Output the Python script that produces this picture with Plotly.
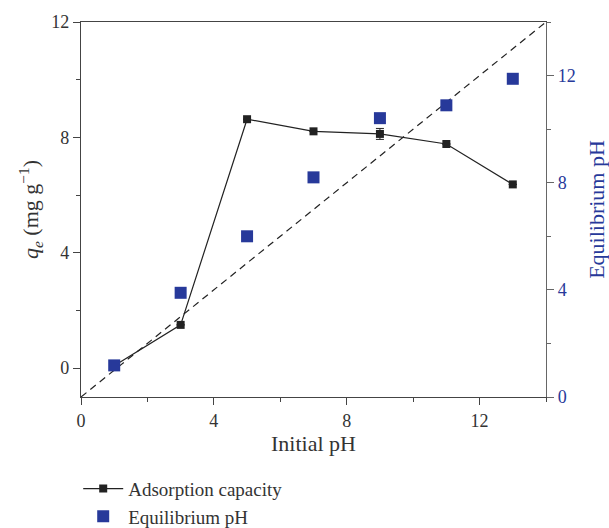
import plotly.graph_objects as go

initial_ph = [1, 3, 5, 7, 9, 11, 13]
adsorption_capacity = [0.08, 1.5, 8.63, 8.21, 8.12, 7.77, 6.37]
adsorption_err = [0, 0, 0, 0, 0.19, 0, 0]
equilibrium_ph = [1.18, 3.89, 6.0, 8.2, 10.41, 10.89, 11.88]
ref_line_x = [0, 14]
ref_line_y = [0, 14]

FONT = "Liberation Serif"
BLUE = "#27399a"
BLK = "#222222"

fig = go.Figure()
fig.add_trace(go.Scatter(
    x=ref_line_x, y=ref_line_y, yaxis="y2", mode="lines",
    line=dict(color=BLK, width=1.2, dash="7px,5px"), showlegend=False, hoverinfo="skip"))
fig.add_trace(go.Scatter(
    x=initial_ph, y=equilibrium_ph, yaxis="y2", mode="markers", name="Equilibrium pH",
    marker=dict(symbol="square", size=12, color=BLUE)))
fig.add_trace(go.Scatter(
    x=initial_ph, y=adsorption_capacity, mode="lines+markers", name="Adsorption capacity",
    line=dict(color=BLK, width=1.2),
    marker=dict(symbol="square", size=8, color=BLK),
    error_y=dict(type="data", array=adsorption_err, color=BLK, thickness=1, width=4)))

axis_common = dict(showgrid=False, zeroline=False, showline=True, linewidth=1.2,
                   ticks="outside", ticklen=7, tickwidth=1.2, dtick=4, tick0=0)

fig.update_layout(
    width=609, height=528,
    margin=dict(l=81, r=63, t=22, b=131, autoexpand=False),
    plot_bgcolor="white", paper_bgcolor="white",
    font=dict(family=FONT, size=18, color="#333333"),
    xaxis=dict(range=[0, 14], linecolor="#444444", tickcolor="#444444", mirror=True,
               title=dict(text="Initial pH", standoff=4),
               minor=dict(dtick=2, tick0=0, ticks="outside", ticklen=4, tickcolor="#444444"),
               **axis_common),
    yaxis=dict(range=[-1, 12], linecolor="#444444", tickcolor="#444444",
               title=dict(text="<i>q<sub>e</sub></i> (mg g<sup>−1</sup>)", standoff=6),
               minor=dict(dtick=2, tick0=0, ticks="outside", ticklen=4, tickcolor="#444444"),
               **axis_common),
    yaxis2=dict(range=[0, 14], overlaying="y", side="right", linecolor="#666666", tickcolor="#666666",
                tickfont=dict(color=BLUE),
                title=dict(text="Equilibrium pH", font=dict(color=BLUE), standoff=15),
                minor=dict(dtick=2, tick0=0, ticks="outside", ticklen=4, tickcolor="#666666"),
                **axis_common),
    legend=dict(x=-0.006, xanchor="left", y=-0.37, yanchor="bottom", bgcolor="rgba(0,0,0,0)",
                font=dict(size=19, color="#333333"), traceorder="reversed", tracegroupgap=0,
                itemwidth=40),
)

fig.write_html("out.html")
